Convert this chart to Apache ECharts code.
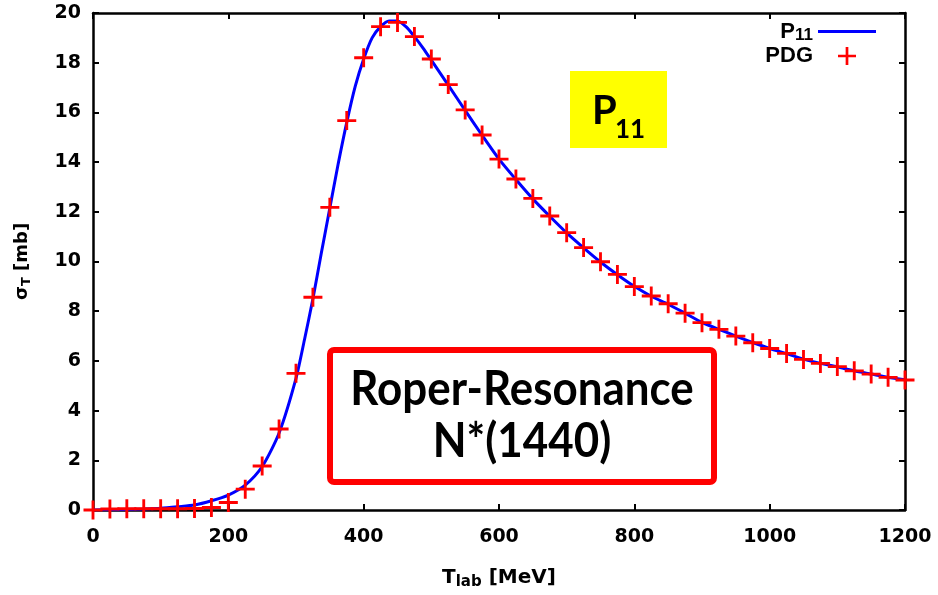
<!DOCTYPE html>
<html><head><meta charset="utf-8">
<script src="https://cdn.jsdelivr.net/npm/echarts@6/dist/echarts.min.js"></script>
<style>html,body{margin:0;padding:0;background:#fff}#c{width:938px;height:595px}</style>
</head><body><div id="c"></div>
<script>
// PDG data points (T_lab in MeV, sigma_T in mb)
const pdgT = [0,25,50,75,100,125,150,175,200,225,250,275,300,325,350,375,400,425,450,475,500,525,550,575,600,625,650,675,700,725,750,775,800,825,850,875,900,925,950,975,1000,1025,1050,1075,1100,1125,1150,1175,1200];
const pdgSigma = [0.0,0.04,0.05,0.05,0.05,0.05,0.06,0.1,0.3,0.84,1.77,3.26,5.5,8.56,12.18,15.67,18.2,19.45,19.62,19.05,18.15,17.12,16.1,15.09,14.12,13.32,12.54,11.83,11.16,10.56,9.99,9.48,8.99,8.61,8.3,7.92,7.54,7.27,7.0,6.73,6.5,6.3,6.06,5.9,5.77,5.6,5.47,5.34,5.23];
// P11 model curve
const curveT = [0,25,50,75,100,125,150,175,200,225,250,275,300,312.5,325,337.5,350,362.5,375,387.5,400,412.5,425,437.5,450,462.5,475,487.5,500,525,550,575,600,625,650,675,700,725,750,775,800,825,850,875,900,925,950,975,1000,1025,1050,1075,1100,1125,1150,1175,1200];
const curveSigma = [0.0,0.01,0.02,0.04,0.07,0.13,0.2,0.37,0.6,1.0,1.75,3.1,5.3,6.85,8.5,10.35,12.15,13.95,15.6,17.05,18.15,19.0,19.45,19.68,19.68,19.45,19.05,18.6,18.1,17.1,16.08,15.08,14.12,13.3,12.52,11.82,11.15,10.55,9.98,9.47,9.0,8.6,8.28,7.92,7.55,7.27,7.0,6.74,6.5,6.29,6.07,5.9,5.76,5.6,5.47,5.34,5.24];
// axis ticks
const xTickLabels = [0,200,400,600,800,1000,1200];
const yTickLabels = [0,2,4,6,8,10,12,14,16,18,20];

const chart = echarts.init(document.getElementById('c'), null, {renderer:'canvas'});
const frameLine = {show:true, onZero:false, lineStyle:{color:'#000', width:2.5}};
const tick = {show:true, inside:true, length:6, lineStyle:{color:'#000', width:2}};
const tickFont = {fontFamily:'DejaVu Sans', fontWeight:'bold', fontSize:19, color:'#000', formatter:v => String(v)};
const xMin = xTickLabels[0], xMax = xTickLabels[xTickLabels.length-1], xInt = xTickLabels[1]-xTickLabels[0];
const yMin = yTickLabels[0], yMax = yTickLabels[yTickLabels.length-1], yInt = yTickLabels[1]-yTickLabels[0];
const crossPath = 'path://M8.5,0 H11.5 V8.5 H20 V11.5 H11.5 V20 H8.5 V11.5 H0 V8.5 H8.5 Z';

chart.setOption({
  animation:false,
  backgroundColor:'#fff',
  grid:{left:93, right:33, top:13, bottom:85, containLabel:false},
  xAxis:[{
    type:'value', min:xMin, max:xMax, interval:xInt, position:'bottom',
    axisLine:frameLine, axisTick:tick, splitLine:{show:false},
    axisLabel:Object.assign({margin:18}, tickFont),
    name:'T{s|lab} [MeV]', nameLocation:'middle', nameGap:55,
    nameTextStyle:{fontFamily:'DejaVu Sans', fontWeight:'bold', fontSize:20, color:'#000',
      rich:{s:{fontFamily:'DejaVu Sans', fontWeight:'bold', fontSize:15, color:'#000', padding:[10,0,0,0]}}}
  },{
    type:'value', min:xMin, max:xMax, interval:xInt, position:'top',
    axisLine:frameLine, axisTick:tick, splitLine:{show:false}, axisLabel:{show:false}
  }],
  yAxis:[{
    type:'value', min:yMin, max:yMax, interval:yInt, position:'left',
    axisLine:frameLine, axisTick:tick, splitLine:{show:false},
    axisLabel:Object.assign({margin:12}, tickFont),
    name:'σ{s|T} [mb]', nameLocation:'middle', nameGap:60,
    nameTextStyle:{fontFamily:'DejaVu Sans', fontWeight:'bold', fontSize:18, color:'#000',
      rich:{s:{fontFamily:'DejaVu Sans', fontWeight:'bold', fontSize:13, color:'#000', padding:[8,0,0,0]}}}
  },{
    type:'value', min:yMin, max:yMax, interval:yInt, position:'right',
    axisLine:frameLine, axisTick:tick, splitLine:{show:false}, axisLabel:{show:false}
  }],
  legend:{
    orient:'vertical', right:57, top:14, align:'right',
    itemWidth:58, itemHeight:18, itemGap:0, symbolKeepAspect:true,
    data:[{name:'P11', icon:'path://M0,0 H58 V3 H0 Z'}, {name:'PDG'}],
    formatter:n => n==='P11' ? 'P{s|11}' : n,
    textStyle:{fontFamily:'Liberation Sans', fontWeight:'bold', fontSize:22, color:'#000', lineHeight:24,
      rich:{s:{fontFamily:'Liberation Sans', fontWeight:'bold', fontSize:17, color:'#000', lineHeight:24, padding:[8,0,0,0]}}}
  },
  series:[{
    name:'P11', type:'line', xAxisIndex:0, yAxisIndex:0,
    data:curveT.map((t,i)=>[t,curveSigma[i]]),
    symbol:'none', smooth:0.25,
    lineStyle:{color:'#0000ff', width:3}, itemStyle:{color:'#0000ff'}, z:2
  },{
    name:'PDG', type:'scatter', xAxisIndex:0, yAxisIndex:0,
    data:pdgT.map((t,i)=>[t,pdgSigma[i]]),
    symbol:crossPath, symbolSize:19, symbolKeepAspect:true, clip:false,
    itemStyle:{color:'#ff0000', opacity:1}, z:3
  }],
  graphic:[
    {type:'rect', shape:{x:570, y:71, width:97, height:77}, style:{fill:'#ffff00'}, z:10},
    {type:'text', x:592, y:111, style:{text:'P', font:'bold 40px Lato', fill:'#000', textVerticalAlign:'middle'}, z:11},
    {type:'text', x:615, y:130, style:{text:'11', font:'bold 26px Lato', fill:'#000', textVerticalAlign:'middle'}, z:11},
    {type:'rect', shape:{x:330, y:350, width:384, height:132, r:4}, style:{fill:'rgba(255,255,255,0)', stroke:'#ff0000', lineWidth:6}, z:10},
    {type:'text', x:522, y:390, scaleX:0.915, style:{text:'Roper-Resonance', font:'bold 48px Lato', fill:'#000', textAlign:'center', textVerticalAlign:'middle'}, z:11},
    {type:'text', x:522, y:442, scaleX:0.915, style:{text:'N*(1440)', font:'bold 48px Lato', fill:'#000', textAlign:'center', textVerticalAlign:'middle'}, z:11}
  ]
});
</script></body></html>
